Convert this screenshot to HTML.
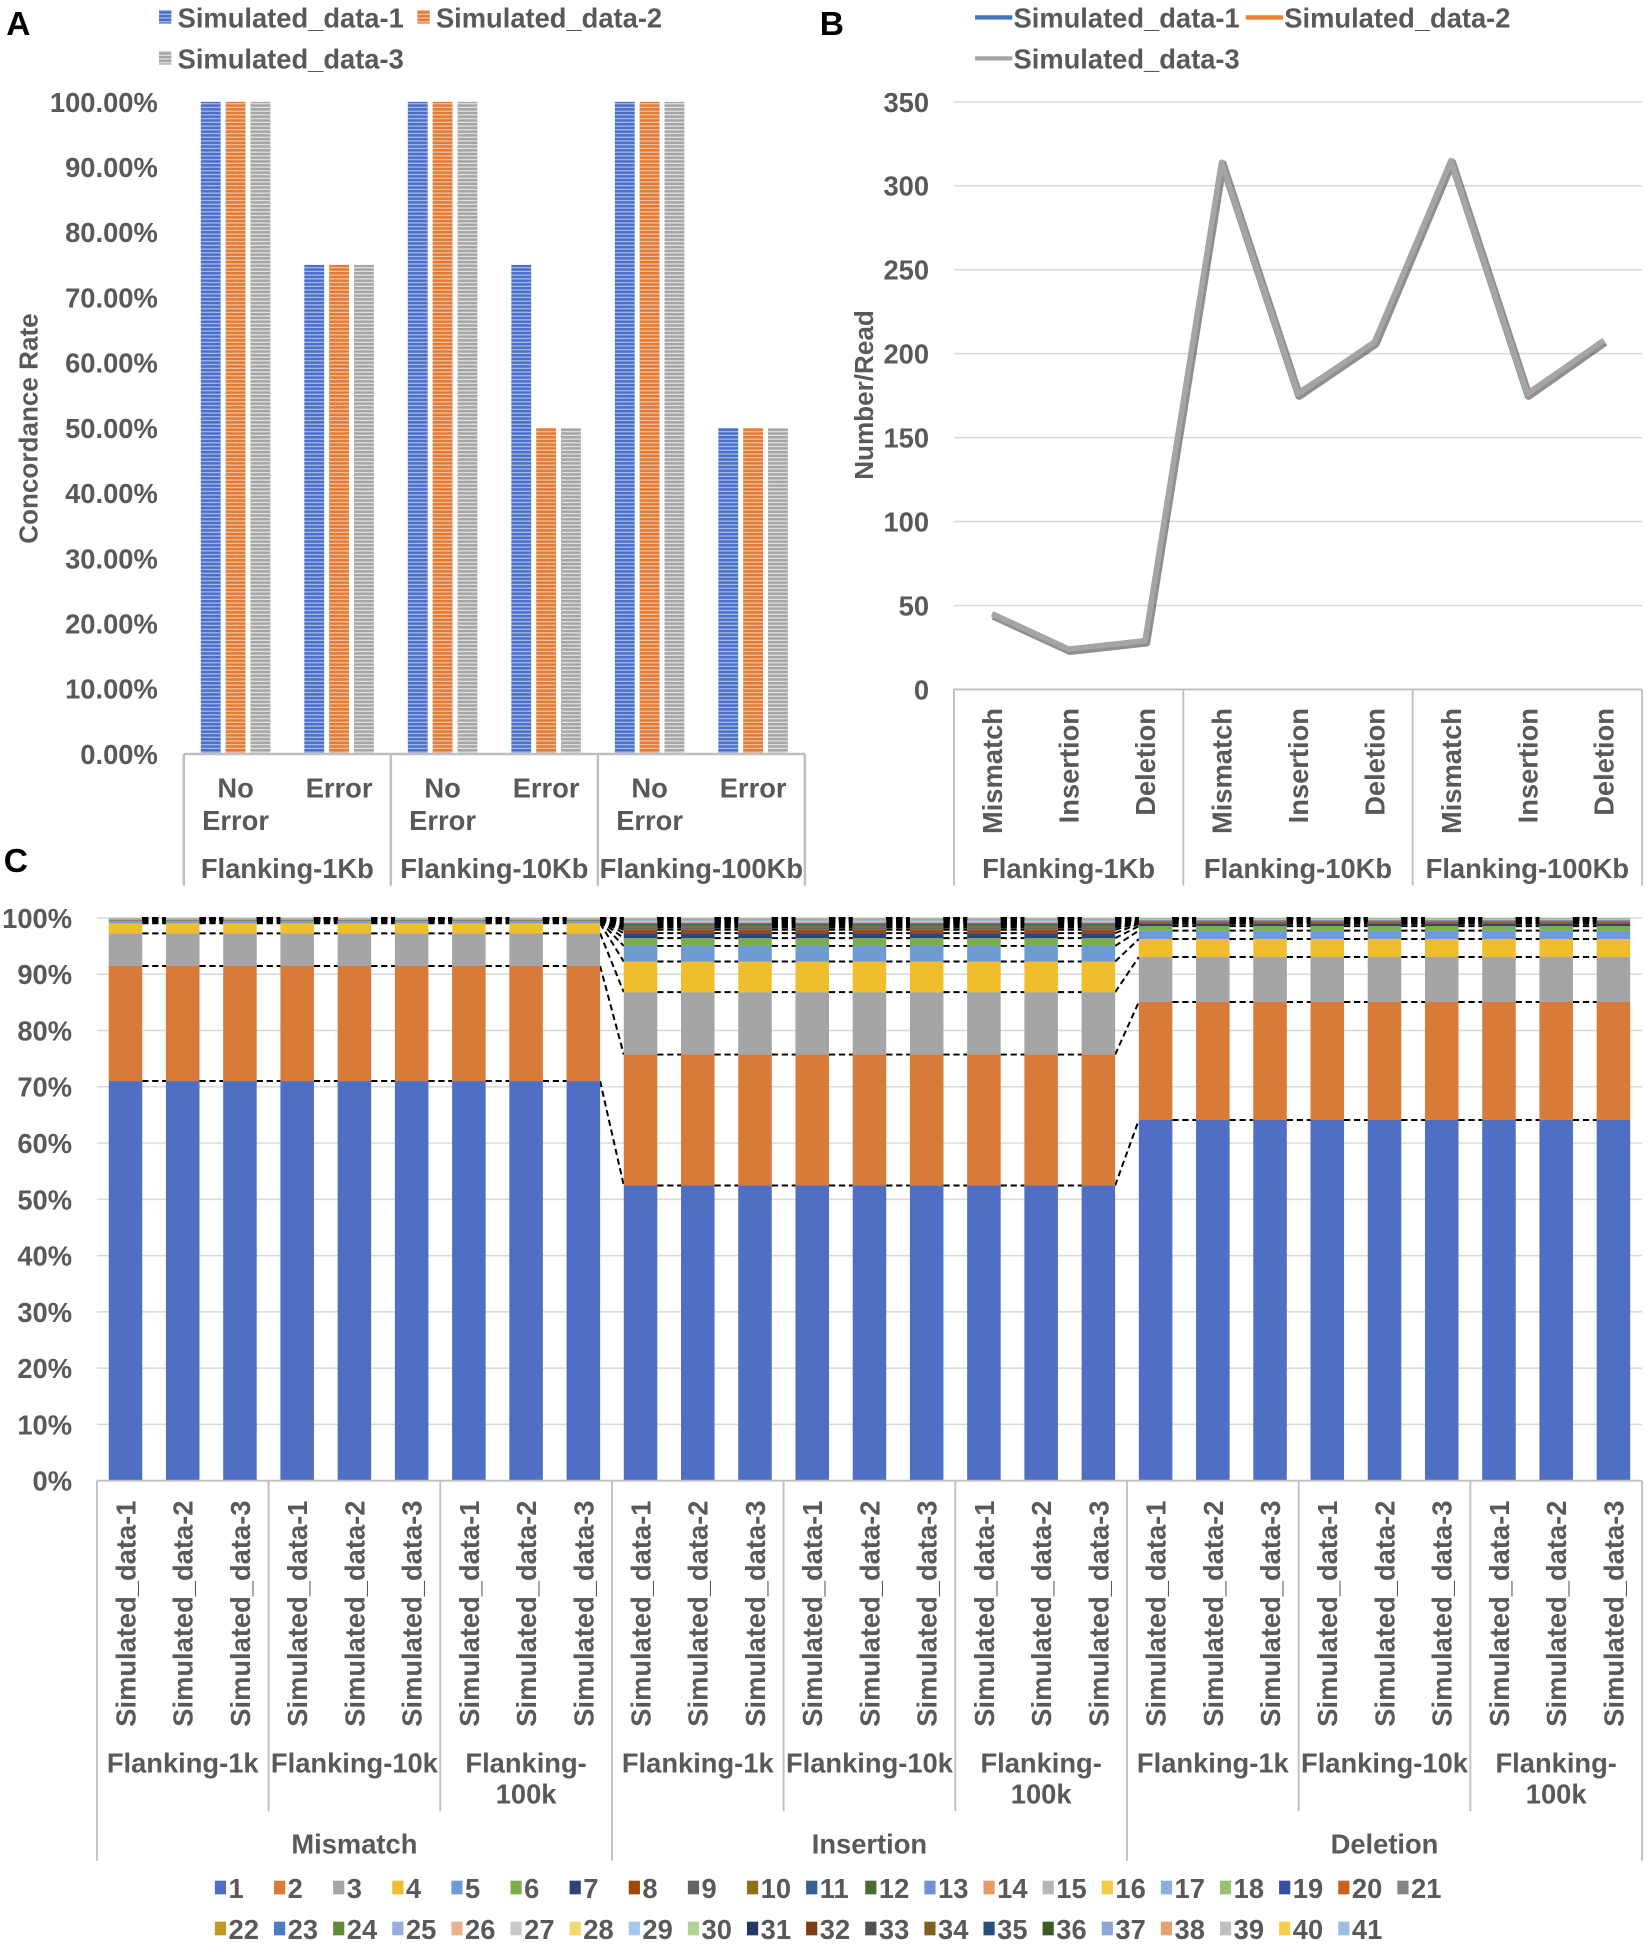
<!DOCTYPE html>
<html><head><meta charset="utf-8"><style>
html,body{margin:0;padding:0;background:#fff;}
svg{display:block;font-family:"Liberation Sans",Arial,sans-serif;font-weight:bold;}
</style></head><body>
<svg id="root" width="1647" height="1949" viewBox="0 0 1326 1569" preserveAspectRatio="none" xmlns="http://www.w3.org/2000/svg">
<defs>
<pattern id="pb" width="4" height="3" patternUnits="userSpaceOnUse"><rect width="4" height="3" fill="#A9BBE6"/><rect width="4" height="2" fill="#4A6FCB"/></pattern>
<pattern id="po" width="4" height="3" patternUnits="userSpaceOnUse"><rect width="4" height="3" fill="#F5C2A0"/><rect width="4" height="2" fill="#E07A34"/></pattern>
<pattern id="pg" width="4" height="3" patternUnits="userSpaceOnUse"><rect width="4" height="3" fill="#E2E2E2"/><rect width="4" height="2" fill="#A5A5A5"/></pattern>
</defs>
<g id="A"></g>
<g id="B"></g>
<g id="C"></g>
</svg>
<script>
// ---------- Panel A data ----------
const aCats = ["No Error","Error","No Error","Error","No Error","Error"];
const aGroups = ["Flanking-1Kb","Flanking-10Kb","Flanking-100Kb"];
const aSeriesNames = ["Simulated_data-1","Simulated_data-2","Simulated_data-3"];
const aS1 = [100,75,100,75,100,50];
const aS2 = [100,75,100,50,100,50];
const aS3 = [100,75,100,50,100,50];
const aTicks = ["0.00%","10.00%","20.00%","30.00%","40.00%","50.00%","60.00%","70.00%","80.00%","90.00%","100.00%"];
// ---------- Panel B data ----------
const bCats = ["Mismatch","Insertion","Deletion","Mismatch","Insertion","Deletion","Mismatch","Insertion","Deletion"];
const bGroups = ["Flanking-1Kb","Flanking-10Kb","Flanking-100Kb"];
const bS1 = [45,24,29,313,177,207,314,176,208];
const bS2 = [45,24,29,314,176,207,313,177,208];
const bS3 = [45,24,29,314,176,207,315,176,208];
const bTicks = [0,50,100,150,200,250,300,350];
// ---------- Panel C data ----------
const cTypes = ["Mismatch","Insertion","Deletion"];
const cFlanks = ["Flanking-1k","Flanking-10k","Flanking-100k"];
const cSamples = ["Simulated_data-1","Simulated_data-2","Simulated_data-3"];
const cMismatch = [71.2,20.5,5.8,1.8,0.3,0.15,0.08,0.05,0.03,0.02,0.02,0.01,0.01,0.01,0.01,0.01,0.01,0.01,0.01,0.01,0.01,0.01,0.01,0.01,0.01,0.01,0.01,0.01,0.01,0.01,0.01,0.01,0.01,0.01,0.01,0.01,0.01,0.01,0.01,0.01,0.01];
const cInsertion = [53,23.5,11.2,5.5,2.8,1.4,0.9,0.6,0.4,0.3,0.25,0.2,0.15,0.12,0.1,0.08,0.07,0.06,0.05,0.04,0.03,0.03,0.02,0.02,0.02,0.02,0.02,0.01,0.01,0.01,0.01,0.01,0.01,0.01,0.01,0.01,0.01,0.01,0.01,0.01,0.01];
const cDeletion = [64.2,21,8,3.2,1.5,0.8,0.4,0.25,0.15,0.1,0.08,0.06,0.05,0.04,0.03,0.02,0.02,0.02,0.01,0.01,0.01,0.01,0.01,0.01,0.01,0.01,0.01,0.01,0.01,0.01,0.01,0.01,0.01,0.01,0.01,0.01,0.01,0.01,0.01,0.01,0.01];
const cTicks = ["0%","10%","20%","30%","40%","50%","60%","70%","80%","90%","100%"];
const cColors = ["#4F6FC4","#D97B38","#A5A5A5","#F0BE2C","#6C9BD6","#7AAD4B","#2C4478","#9E480E","#636363","#8F6E1A","#3A5F95","#4B6B2E","#7390D2","#E69B66","#B7B7B7","#F2CC44","#8BB0E0","#98C270","#3450A0","#C8601E","#848484","#C29A22","#4A7EC4","#5E8C3C","#98AEDE","#E8B28D","#C9C9C9","#F5D970","#A7C7EA","#AED394","#223765","#7E3C14","#525252","#806020","#2A4E7C","#3B5A26","#8FA6DA","#E4A273","#BFBFBF","#F3CF4A","#9DBFE5"];

const NS="http://www.w3.org/2000/svg";
function el(parent,tag,attrs,text){const e=document.createElementNS(NS,tag);for(const k in attrs)e.setAttribute(k,attrs[k]);if(text!==undefined)e.textContent=text;parent.appendChild(e);return e;}
const TXT="#595959";
const FS=22;

// ================= PANEL A =================
(function(){
const g=document.getElementById('A');
let t=el(g,'text',{x:5,y:28,'font-size':27,fill:'#000'},'A');


const x0=148,x1=648,yTop=82,yBot=607;
const yA=v=>yBot-(v/100)*(yBot-yTop);
aTicks.forEach((lab,i)=>{
  const tt=el(g,'text',{x:127,y:yA(i*10)+8,'font-size':FS,fill:TXT,'text-anchor':'end'},lab);
  
  
});
const yt=el(g,'text',{transform:'translate(30,345) rotate(-90)','font-size':21,fill:TXT,'text-anchor':'middle'},'Concordance Rate');


const cw=(x1-x0)/aCats.length;
const series=[aS1,aS2,aS3];const pats=['url(#pb)','url(#po)','url(#pg)'];
const bw=16,gap=4;
aCats.forEach((c,i)=>{
  const cx=x0+cw*(i+0.5);
  series.forEach((s,j)=>{
    const bx=cx-(3*bw+2*gap)/2+j*(bw+gap);
    const r=el(g,'rect',{x:bx,y:yA(s[i]),width:bw,height:yBot-yA(s[i]),fill:pats[j]});
    
    
  });
  const lines=c==="No Error"?["No","Error"]:["Error"];
  lines.forEach((ln,k)=>{
    const tt=el(g,'text',{x:cx,y:642+k*26,'font-size':FS,fill:TXT,'text-anchor':'middle'},ln);
    
    
  });
});
el(g,'line',{x1:x0,y1:yBot,x2:x1,y2:yBot,stroke:'#BFBFBF','stroke-width':2});
for(let k=0;k<=3;k++){const x=x0+k*cw*2;el(g,'line',{x1:x,y1:yBot,x2:x,y2:713,stroke:'#BFBFBF','stroke-width':2});}
aGroups.forEach((gl,k)=>{
  const tt=el(g,'text',{x:x0+cw*(2*k+1),y:707,'font-size':FS,fill:TXT,'text-anchor':'middle'},gl);
  
  
});
const leg=[[128,14,0],[336,14,1],[128,47,2]];
leg.forEach(([lx,ly,j])=>{
  const r=el(g,'rect',{x:lx,y:ly-6,width:10,height:11,fill:pats[j]});
  
  
  const tt=el(g,'text',{x:lx+15,y:ly+8,'font-size':FS,fill:TXT},aSeriesNames[j]);
  
  
});
})();

// ================= PANEL B =================
(function(){
const g=document.getElementById('B');
let t=el(g,'text',{x:660,y:28,'font-size':27,fill:'#000'},'B');


const x0=768,x1=1322,yTop=82,yBot=555;
const yB=v=>yBot-(v/350)*(yBot-yTop);
bTicks.forEach(v=>{
  if(v>0){const gl=el(g,'line',{x1:x0,y1:yB(v),x2:x1,y2:yB(v),stroke:'#D9D9D9','stroke-width':1.2});
  
  }
  const tt=el(g,'text',{x:748,y:yB(v)+8,'font-size':FS,fill:TXT,'text-anchor':'end'},String(v));
  
  
});
const yt=el(g,'text',{transform:'translate(703,318) rotate(-90)','font-size':21,fill:TXT,'text-anchor':'middle'},'Number/Read');


const cw=(x1-x0)/bCats.length;
const xB=i=>x0+cw*(i+0.5);
el(g,'line',{x1:x0,y1:yBot,x2:x1,y2:yBot,stroke:'#BFBFBF','stroke-width':1.5});
for(let k=0;k<=3;k++){const x=x0+k*cw*3;el(g,'line',{x1:x,y1:yBot,x2:x,y2:713,stroke:'#BFBFBF','stroke-width':1.5});}
bCats.forEach((c,i)=>{
  const tt=el(g,'text',{transform:'translate('+(xB(i)+8)+',570) rotate(-90)','font-size':FS,fill:TXT,'text-anchor':'end'},c);
  
  
});
bGroups.forEach((gl,k)=>{
  const tt=el(g,'text',{x:x0+cw*(3*k+1.5),y:707,'font-size':FS,fill:TXT,'text-anchor':'middle'},gl);
  
  
});
const pts=s=>s.map((v,i)=>xB(i)+','+yB(v)).join(' ');
const sh=el(g,'polyline',{points:pts(bS3),fill:'none',stroke:'#333','stroke-opacity':0.55,'stroke-width':6.5,transform:'translate(1,1.5)','stroke-linejoin':'round'});


const cols=['#4472C4','#ED7D31','#A5A5A5'];const ws=[3,3,4.5];
[bS1,bS2,bS3].forEach((s,j)=>{
  const p=el(g,'polyline',{points:pts(s),fill:'none',stroke:cols[j],'stroke-width':ws[j],'stroke-linejoin':'round'});
  
  
});
const leg=[[785,14,0],[1003,14,1],[785,47,2]];
const names=["Simulated_data-1","Simulated_data-2","Simulated_data-3"];
leg.forEach(([lx,ly,j])=>{
  el(g,'line',{x1:lx,y1:ly,x2:lx+30,y2:ly,stroke:cols[j],'stroke-width':3.5});
  const tt=el(g,'text',{x:lx+31,y:ly+8,'font-size':FS,fill:TXT},names[j]);
  
  
});
})();

// ================= PANEL C =================
(function(){
const g=document.getElementById('C');
let t=el(g,'text',{x:3,y:702,'font-size':27,fill:'#000'},'C');


const x0=78,x1=1322,yTop=739,yBot=1192;
const yC=v=>yBot-(v/100)*(yBot-yTop);
cTicks.forEach((lab,i)=>{
  const gl=el(g,'line',{x1:x0,y1:yC(i*10),x2:x1,y2:yC(i*10),stroke:'#D9D9D9','stroke-width':1.2});
  
  
  const tt=el(g,'text',{x:58,y:yC(i*10)+8,'font-size':FS,fill:TXT,'text-anchor':'end'},lab);
  
  
});
const typeData=[cMismatch,cInsertion,cDeletion];
const n=27,cw=(x1-x0)/n,bw=27;
const cum=[];
for(let i=0;i<n;i++){
  const d=typeData[Math.floor(i/9)];
  const tot=d.reduce((a,b)=>a+b,0);
  const c=[0];let acc=0;
  d.forEach(v=>{acc+=v/tot*100;c.push(acc);});
  cum.push(c);
}
for(let i=0;i<n-1;i++){
  const xa=x0+cw*(i+0.5)+bw/2,xb=x0+cw*(i+1.5)-bw/2;
  for(let k=1;k<41;k++){
    const l=el(g,'line',{x1:xa,y1:yC(cum[i][k]),x2:xb,y2:yC(cum[i+1][k]),stroke:'#000','stroke-width':1.6,'stroke-dasharray':'5,3'});
    
    
  }
}
for(let i=0;i<n;i++){
  const cx=x0+cw*(i+0.5);
  for(let k=0;k<41;k++){
    const ya=yC(cum[i][k+1]),yb=yC(cum[i][k]);
    const r=el(g,'rect',{x:cx-bw/2,y:ya,width:bw,height:Math.max(0,yb-ya),fill:cColors[k]});
    
    
  }
  const tt=el(g,'text',{transform:'translate('+(cx+8)+',1208) rotate(-90)','font-size':FS,fill:TXT,'text-anchor':'end'},cSamples[i%3]);
  
  
}
el(g,'line',{x1:x0,y1:yBot,x2:x1,y2:yBot,stroke:'#BFBFBF','stroke-width':1.5});
for(let k=0;k<=9;k++){
  const x=x0+k*cw*3;
  el(g,'line',{x1:x,y1:yBot,x2:x,y2:(k%3===0)?1498:1458,stroke:'#BFBFBF','stroke-width':1.5});
}
for(let k=0;k<9;k++){
  const cx=x0+cw*(3*k+1.5);
  const lab=cFlanks[k%3];
  if(lab==="Flanking-100k"){
    ['Flanking-','100k'].forEach((s,m)=>{
      const tt=el(g,'text',{x:cx,y:1427+m*25,'font-size':FS,fill:TXT,'text-anchor':'middle'},s);
      
      
    });
  } else {
    const tt=el(g,'text',{x:cx,y:1427,'font-size':FS,fill:TXT,'text-anchor':'middle'},lab);
    
    
  }
}
cTypes.forEach((ty,k)=>{
  const tt=el(g,'text',{x:x0+cw*(9*k+4.5),y:1492,'font-size':FS,fill:TXT,'text-anchor':'middle'},ty);
  
  
});
for(let k=0;k<41;k++){
  const row=k<21?0:1;const idx=row?k-21:k;
  const lx=173+idx*47.6,ly=row?1553:1520;
  const r=el(g,'rect',{x:lx,y:ly-6,width:9,height:11,fill:cColors[k]});
  
  
  const tt=el(g,'text',{x:lx+11,y:ly+8,'font-size':FS,fill:TXT},String(k+1));
  
  
}
})();
</script>
</body></html>
